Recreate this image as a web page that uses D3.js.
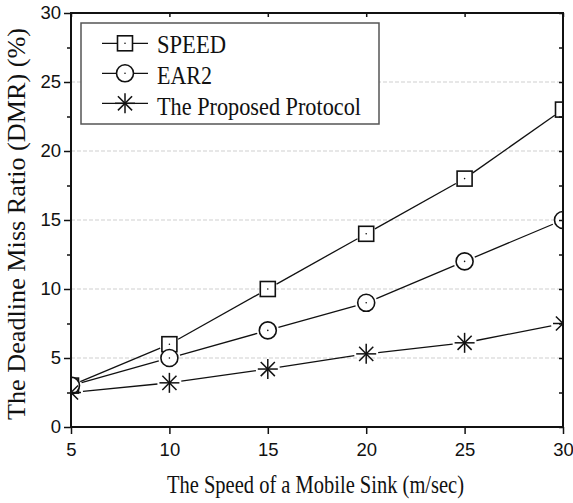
<!DOCTYPE html>
<html>
<head>
<meta charset="utf-8">
<script src="https://cdn.jsdelivr.net/npm/d3@7"></script>
<style>
  body { margin: 0; background: #fff; }
  svg { display: block; }
  .serif { font-family: "Liberation Serif", "Times New Roman", Times, serif; }
  .sans { font-family: "Liberation Sans", Arial, Helvetica, sans-serif; }
</style>
</head>
<body>
<div id="chart"></div>
<script>
// data
var speeds = [5, 10, 15, 20, 25, 30];
var speedVals = [3, 6, 10, 14, 18, 23];
var ear2Vals = [3, 5, 7, 9, 12, 15];
var proposedVals = [2.5, 3.2, 4.2, 5.3, 6.1, 7.5];
var seriesNames = ["SPEED", "EAR2", "The Proposed Protocol"];
var xTicks = [5, 10, 15, 20, 25, 30];
var yTicks = [0, 5, 10, 15, 20, 25, 30];
var yMinor = [2.5, 7.5, 12.5, 17.5, 22.5, 27.5];

var width = 573, height = 503;
var margin = {left: 71, top: 13, right: 10, bottom: 76};

var svg = d3.select("#chart").append("svg")
    .attr("width", width)
    .attr("height", height);

var x = d3.scaleLinear().domain([5, 30]).range([margin.left, width - margin.right]);
var y = d3.scaleLinear().domain([0, 30]).range([height - margin.bottom, margin.top]);

// clip for markers at plot edges
svg.append("defs").append("clipPath").attr("id", "plotclip")
  .append("rect")
    .attr("x", x(5)).attr("y", y(30))
    .attr("width", x(30) - x(5)).attr("height", y(0) - y(30));

// dashed horizontal grid
svg.append("g").selectAll("line")
    .data(yTicks.filter(function(d){ return d > 0 && d < 30; }))
    .enter().append("line")
    .attr("x1", x(5)).attr("x2", x(30))
    .attr("y1", function(d){ return y(d); })
    .attr("y2", function(d){ return y(d); })
    .attr("stroke", "#cfcfcf")
    .attr("stroke-width", 1)
    .attr("stroke-dasharray", "4,2");

// series
var series = [
  {name: seriesNames[0], vals: speedVals, shape: "square", gap: 10, textW: 69},
  {name: seriesNames[1], vals: ear2Vals, shape: "circle", gap: 11, textW: 55},
  {name: seriesNames[2], vals: proposedVals, shape: "star", gap: 12, textW: 204}
];

function drawMarker(g, shape, cx, cy) {
  if (shape == "square") {
    g.append("rect")
      .attr("x", cx - 7.5).attr("y", cy - 7.5)
      .attr("width", 15).attr("height", 15)
      .attr("fill", "white").attr("stroke", "#111").attr("stroke-width", 1.6);
    g.append("circle").attr("cx", cx).attr("cy", cy).attr("r", 0.8).attr("fill", "#111");
  } else if (shape == "circle") {
    g.append("circle")
      .attr("cx", cx).attr("cy", cy).attr("r", 8.5)
      .attr("fill", "white").attr("stroke", "#111").attr("stroke-width", 1.6);
    g.append("circle").attr("cx", cx).attr("cy", cy).attr("r", 0.8).attr("fill", "#111");
  } else {
    var r = 10;
    [0, 45, 90, 135].forEach(function(a){
      var rad = a * Math.PI / 180;
      g.append("line")
        .attr("x1", cx - r * Math.cos(rad)).attr("y1", cy - r * Math.sin(rad))
        .attr("x2", cx + r * Math.cos(rad)).attr("y2", cy + r * Math.sin(rad))
        .attr("stroke", "#111").attr("stroke-width", 1.5);
    });
  }
}

var plot = svg.append("g").attr("clip-path", "url(#plotclip)");

series.forEach(function(s){
  var pts = speeds.map(function(v, i){ return [x(v), y(s.vals[i])]; });
  // line segments with small gaps around markers
  for (var i = 0; i < pts.length - 1; i++) {
    var a = pts[i], b = pts[i+1];
    var dx = b[0] - a[0], dy = b[1] - a[1];
    var len = Math.sqrt(dx*dx + dy*dy);
    var ux = dx / len, uy = dy / len;
    plot.append("line")
      .attr("x1", a[0] + ux * s.gap).attr("y1", a[1] + uy * s.gap)
      .attr("x2", b[0] - ux * s.gap).attr("y2", b[1] - uy * s.gap)
      .attr("stroke", "#111").attr("stroke-width", 1.3);
  }
  pts.forEach(function(p){ drawMarker(plot, s.shape, p[0], p[1]); });
});

// axes
var axisG = svg.append("g");
axisG.append("g")
    .attr("transform", "translate(0," + y(0) + ")")
    .call(d3.axisBottom(x).tickValues(xTicks).tickSize(7).tickSizeOuter(0).tickPadding(9));
axisG.append("g")
    .attr("transform", "translate(" + x(5) + ",0)")
    .call(d3.axisLeft(y).tickValues(yTicks).tickSize(7).tickSizeOuter(0).tickPadding(3));
axisG.append("g")
    .attr("transform", "translate(" + x(5) + ",0)")
    .call(d3.axisLeft(y).tickValues(yMinor).tickSize(4).tickSizeOuter(0).tickFormat(""));
// mirrored top and right, ticks inward
axisG.append("g")
    .attr("transform", "translate(0," + y(30) + ")")
    .call(d3.axisTop(x).tickValues(xTicks).tickSize(-4).tickSizeOuter(0).tickFormat(""));
axisG.append("g")
    .attr("transform", "translate(" + x(30) + ",0)")
    .call(d3.axisRight(y).tickValues(yTicks.concat(yMinor)).tickSize(-4).tickSizeOuter(0).tickFormat(""));

axisG.selectAll(".domain").remove();
axisG.selectAll(".tick line").attr("stroke", "#111").attr("stroke-width", 1.5);
axisG.selectAll(".tick text")
    .attr("fill", "#111")
    .attr("font-family", null)
    .attr("font-size", null)
    .attr("class", "sans")
    .style("font-size", "18.5px");

svg.append("rect")
    .attr("x", x(5)).attr("y", y(30))
    .attr("width", x(30) - x(5)).attr("height", y(0) - y(30))
    .attr("fill", "none").attr("stroke", "#111").attr("stroke-width", 2);

// axis titles (the original font is a condensed Times, so squeeze to its width)
svg.append("text")
    .attr("class", "serif")
    .attr("x", 167).attr("y", 493)
    .attr("textLength", 297)
    .attr("lengthAdjust", "spacingAndGlyphs")
    .style("font-size", "25px")
    .attr("fill", "#111")
    .text("The Speed of a Mobile Sink (m/sec)");

svg.append("text")
    .attr("class", "serif")
    .attr("transform", "translate(25,420) rotate(-90)")
    .attr("textLength", 392)
    .attr("lengthAdjust", "spacingAndGlyphs")
    .style("font-size", "25px")
    .attr("fill", "#111")
    .text("The Deadline Miss Ratio (DMR) (%)");

// legend
var legend = svg.append("g");
legend.append("rect")
    .attr("x", 81).attr("y", 23).attr("width", 298).attr("height", 101)
    .attr("fill", "white").attr("stroke", "#555").attr("stroke-width", 1.5);

series.forEach(function(s, i){
  var ly = 43.3 + i * 30;
  var lg = legend.append("g");
  lg.append("line")
    .attr("x1", 102).attr("x2", 148).attr("y1", ly).attr("y2", ly)
    .attr("stroke", "#111").attr("stroke-width", 1.3);
  drawMarker(lg, s.shape, 125, ly);
  lg.append("text")
    .attr("class", "serif")
    .attr("x", 157).attr("y", 53 + i * 31)
    .attr("textLength", s.textW)
    .attr("lengthAdjust", "spacingAndGlyphs")
    .style("font-size", "26px")
    .attr("fill", "#111")
    .text(s.name);
});
</script>
</body>
</html>
